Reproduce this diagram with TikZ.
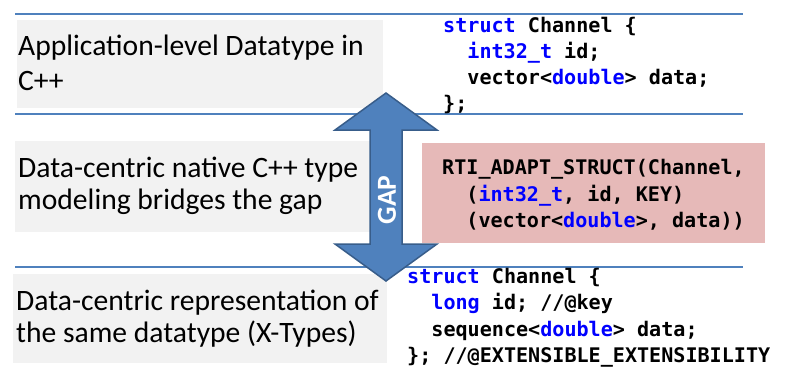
\documentclass[tikz,border=0pt]{standalone}
\usepackage{fontspec}
\setmainfont{Carlito}
\newfontfamily\codefont{DejaVu Sans Mono}
\definecolor{ruleblue}{RGB}{79,129,189}
\definecolor{panelgray}{RGB}{242,242,242}
\definecolor{macropink}{RGB}{230,185,184}
\definecolor{arrowfill}{RGB}{79,129,189}
\definecolor{arrowedge}{RGB}{56,93,138}
\definecolor{kw}{RGB}{0,0,255}
\newcommand{\kwd}[1]{\textcolor{kw}{#1}}
\tikzset{
  rulebar/.style={draw=ruleblue, line width=2pt},
  panel/.style={fill=panelgray, draw=none},
  caption/.style={anchor=base west, inner sep=0pt, font=\fontsize{29.6}{35}\selectfont},
  codeline/.style={anchor=base west, inner sep=0pt, font=\codefont\bfseries\fontsize{20.1}{26}\selectfont},
}
\begin{document}
\begin{tikzpicture}[x=1pt, y=-1pt]
\useasboundingbox (0,0) rectangle (785,368);

% horizontal rules separating the three layers
\draw[rulebar] (15,14) -- (743,14);
\draw[rulebar] (15,114) -- (743,114);
\draw[rulebar] (15,267) -- (743,267);

% gray caption panels
\fill[panel] (17,20) rectangle (383,108);
\fill[panel] (15,141) rectangle (383,232);
\fill[panel] (13,274) rectangle (387,363);

% pink macro box
\fill[macropink] (422,143) rectangle (765,243);

% captions
\node[caption] (c1a) at (18,55) {Application-level Datatype in};
\node[caption] (c1b) at (18,90) {C++};
\node[caption] (c2a) at (18,177.5) {Data-centric native C++ type};
\node[caption] (c2b) at (18,209) {modeling bridges the gap};
\node[caption] (c3a) at (16,310) {Data-centric representation of};
\node[caption] (c3b) at (16,342) {the same datatype (X-Types)};

% application-level C++ struct
\node[codeline] (a1) at (443,32.5) {\kwd{struct} Channel \{};
\node[codeline] (a2) at (467.2,58.5) {\kwd{int32\_t} id;};
\node[codeline] (a3) at (467.2,84.5) {vector<\kwd{double}> data;};
\node[codeline] (a4) at (443,110.5) {\};};

% adapter macro
\node[codeline] (m1) at (442,174.5) {RTI\_ADAPT\_STRUCT(Channel,};
\node[codeline] (m2) at (466.2,201) {(\kwd{int32\_t}, id, KEY)};
\node[codeline] (m3) at (466.2,227.5) {(vector<\kwd{double}>, data))};

% X-Types representation
\node[codeline] (x1) at (407,283.3) {\kwd{struct} Channel \{};
\node[codeline] (x2) at (431.2,309.5) {\kwd{long} id; //@key};
\node[codeline] (x3) at (431.2,336) {sequence<\kwd{double}> data;};
\node[codeline] (x4) at (407,362) {\}; //@EXTENSIBLE\_EXTENSIBILITY};

% double-headed GAP arrow
\draw[fill=arrowfill, draw=arrowedge, line width=1.5pt, line join=miter]
  (386,93) -- (437,130) -- (402,130) -- (402,244) -- (437,244) -- (386,281)
  -- (335,244) -- (370,244) -- (370,130) -- (335,130) -- cycle;
\node[text=white, rotate=90, inner sep=0pt, font=\bfseries\fontsize{27.5}{30}\selectfont] (gap) at (387,200) {GAP};
\end{tikzpicture}
\end{document}
